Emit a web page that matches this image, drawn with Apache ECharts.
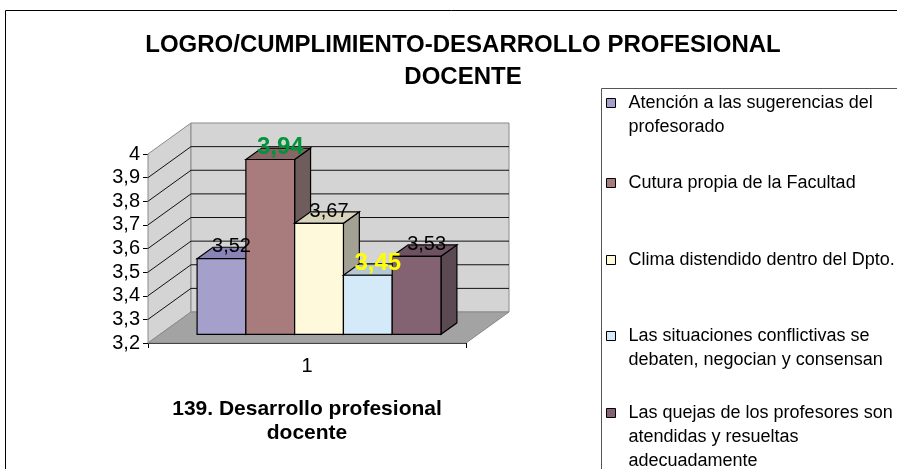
<!DOCTYPE html>
<html>
<head>
<meta charset="utf-8">
<script src="https://cdn.jsdelivr.net/npm/echarts@6/dist/echarts.min.js"></script>
<style>
  html, body { margin: 0; padding: 0; background: #fff; }
  #main { width: 897px; height: 469px; }
</style>
</head>
<body>
<div id="main"></div>
<script>
// datos del gráfico
var categories = ['1'];
var seriesNames = [
  'Atención a las sugerencias del\nprofesorado',
  'Cutura propia de la Facultad',
  'Clima distendido dentro del Dpto.',
  'Las situaciones conflictivas se\ndebaten, negocian y consensan',
  'Las quejas de los profesores son\natendidas y resueltas\nadecuadamente'
];
var values = [3.52, 3.94, 3.67, 3.45, 3.53];
var valueLabels = ['3,52', '3,94', '3,67', '3,45', '3,53'];
var yTicks = [3.2, 3.3, 3.4, 3.5, 3.6, 3.7, 3.8, 3.9, 4.0];
var yTickLabels = ['3,2', '3,3', '3,4', '3,5', '3,6', '3,7', '3,8', '3,9', '4'];

// estilos
var FONT = "'Liberation Sans', Arial, sans-serif";
var frontColors = ['#a59fcb', '#a87c7c', '#fff9dc', '#d5eaf8', '#836272'];
var topColors = ['#8a84b6', '#8a6565', '#d9d5bd', '#b4c7d4', '#6d5262'];
var sideColors = ['#6e6a8c', '#6f5d5d', '#a3a193', '#8e9ca6', '#5b4a52'];
var labelColors = ['#000', '#00953a', '#000', '#ffff00', '#000'];
var labelBold = [false, true, false, true, false];
var DEPTH = [43, -31];      // profundidad de las paredes (px)
var BAR_FRONT = 0.28;       // posicion del frente de las barras
var BAR_DEPTH = 0.37;       // grosor de las barras
var GROUP_RATIO = 0.767;    // ancho del grupo de barras / banda
var LH = 24;                // interlineado de la leyenda
var legendLineY = [103, 183, 260, 336, 413];

var myChart = echarts.init(document.getElementById('main'));

function wallsRender(params, api) {
  var cs = params.coordSys;
  var top = api.coord([0, yTicks[yTicks.length - 1]])[1];
  var bot = api.coord([0, yTicks[0]])[1];
  var L = cs.x, R = cs.x + cs.width, dx = DEPTH[0], dy = DEPTH[1];
  var edge = { stroke: '#8a8a8a', lineWidth: 1 };
  return {
    type: 'group',
    children: [
      { type: 'polygon', shape: { points: [[L, top], [L + dx, top + dy], [L + dx, bot + dy], [L, bot]] },
        style: Object.assign({ fill: '#d4d4d4' }, edge) },
      { type: 'polygon', shape: { points: [[L + dx, top + dy], [R + dx, top + dy], [R + dx, bot + dy], [L + dx, bot + dy]] },
        style: Object.assign({ fill: '#d4d4d4' }, edge) },
      { type: 'polygon', shape: { points: [[L, bot], [L + dx, bot + dy], [R + dx, bot + dy], [R, bot]] },
        style: Object.assign({ fill: '#a3a3a3' }, edge) }
    ]
  };
}

function gridRender(params, api) {
  var cs = params.coordSys;
  var y = api.coord([0, api.value(1)])[1];
  var L = cs.x, R = cs.x + cs.width, dx = DEPTH[0], dy = DEPTH[1];
  return {
    type: 'polyline',
    shape: { points: [[L, y], [L + dx, y + dy], [R + dx, y + dy]] },
    style: { stroke: '#111', lineWidth: 1, fill: null }
  };
}

function barRender(idx) {
  return function (params, api) {
    var c = api.coord([api.value(0), api.value(1)]);
    var base = api.coord([api.value(0), yTicks[0]]);
    var band = api.size([1, 0])[0];
    var groupW = band * GROUP_RATIO;
    var barW = groupW / values.length;
    var fx = DEPTH[0] * BAR_FRONT, fy = DEPTH[1] * BAR_FRONT;
    var dx = DEPTH[0] * BAR_DEPTH, dy = DEPTH[1] * BAR_DEPTH;
    var x0 = c[0] - groupW / 2 + idx * barW + fx;
    var x1 = x0 + barW;
    var yt = c[1] + fy, yb = base[1] + fy;
    var line = { stroke: '#000', lineWidth: 1.2 };
    return {
      type: 'group',
      children: [
        { type: 'polygon', shape: { points: [[x1, yt], [x1 + dx, yt + dy], [x1 + dx, yb + dy], [x1, yb]] },
          style: Object.assign({ fill: sideColors[idx] }, line) },
        { type: 'polygon', shape: { points: [[x0, yt], [x0 + dx, yt + dy], [x1 + dx, yt + dy], [x1, yt]] },
          style: Object.assign({ fill: topColors[idx] }, line) },
        { type: 'rect', shape: { x: x0, y: yt, width: barW, height: yb - yt },
          style: Object.assign({ fill: frontColors[idx] }, line) },
        { type: 'text', z2: 100, x: (x0 + x1) / 2 + 10, y: yt - 12,
          style: {
            text: valueLabels[idx], fill: labelColors[idx],
            fontSize: labelBold[idx] ? 24 : 20, fontWeight: labelBold[idx] ? 'bold' : 'normal',
            fontFamily: FONT, align: 'center', verticalAlign: 'middle'
          } }
      ]
    };
  };
}

var series = [
  { type: 'custom', name: 'paredes', silent: true, z: 1, renderItem: wallsRender,
    data: [[categories[0], yTicks[0]]] },
  { type: 'custom', name: 'rejilla', silent: true, z: 1, renderItem: gridRender,
    data: yTicks.slice(1, -1).map(function (t) { return [categories[0], t]; }) }
];
seriesNames.forEach(function (name, i) {
  series.push({
    type: 'custom', name: name, renderItem: barRender(i),
    itemStyle: { color: frontColors[i] },
    data: [[categories[0], values[i]]]
  });
});

// una leyenda por elemento; lineas vacias arriba para alinear el icono con la primera linea
var legends = seriesNames.map(function (name, i) {
  var n = name.split('\n').length;
  return {
    data: [name], orient: 'vertical', left: 606,
    top: legendLineY[i] - LH / 2 - (n - 1) * LH,
    padding: 0, itemWidth: 9, itemHeight: 9, icon: 'rect', selectedMode: false,
    itemStyle: { borderColor: '#000', borderWidth: 1 },
    formatter: function (nm) { return new Array(n).join('\n') + nm; },
    textStyle: { fontSize: 18, lineHeight: LH, color: '#000', fontFamily: FONT,
      padding: [0, 0, 0, 8] }
  };
});

myChart.setOption({
  backgroundColor: '#fff',
  animation: false,
  title: {
    text: 'LOGRO/CUMPLIMIENTO-DESARROLLO PROFESIONAL\nDOCENTE',
    left: 458, top: 24, textAlign: 'center',
    textStyle: { fontSize: 24, fontWeight: 'bold', lineHeight: 32, color: '#000', fontFamily: FONT }
  },
  legend: legends,
  graphic: [
    { type: 'rect', shape: { x: 5.5, y: 10.5, width: 950, height: 500 },
      style: { fill: null, stroke: '#000', lineWidth: 1 }, silent: true, z: -10 },
    { type: 'rect', shape: { x: 601.5, y: 88.5, width: 400, height: 450 },
      style: { fill: null, stroke: '#555', lineWidth: 1 }, silent: true, z: -10 }
  ],
  grid: { left: 148, top: 154, width: 318, height: 189 },
  xAxis: {
    type: 'category',
    data: categories,
    axisLine: { lineStyle: { color: '#000', width: 1 } },
    axisTick: { show: true, length: 5, lineStyle: { color: '#000' } },
    axisLabel: { fontSize: 20, color: '#000', fontFamily: FONT, margin: 13 },
    name: '139. Desarrollo profesional\ndocente',
    nameLocation: 'middle',
    nameGap: 54,
    nameTextStyle: { fontSize: 21, fontWeight: 'bold', lineHeight: 24, color: '#000', fontFamily: FONT }
  },
  yAxis: {
    type: 'value',
    min: 3.2, max: 4, interval: 0.1,
    axisLine: { show: true, lineStyle: { color: '#000', width: 1 } },
    axisTick: { show: true, length: 5, lineStyle: { color: '#000' } },
    axisLabel: {
      fontSize: 20, color: '#000', fontFamily: FONT, margin: 8,
      formatter: function (v, i) { return yTickLabels[i]; }
    },
    splitLine: { show: false }
  },
  series: series
});
</script>
</body>
</html>
